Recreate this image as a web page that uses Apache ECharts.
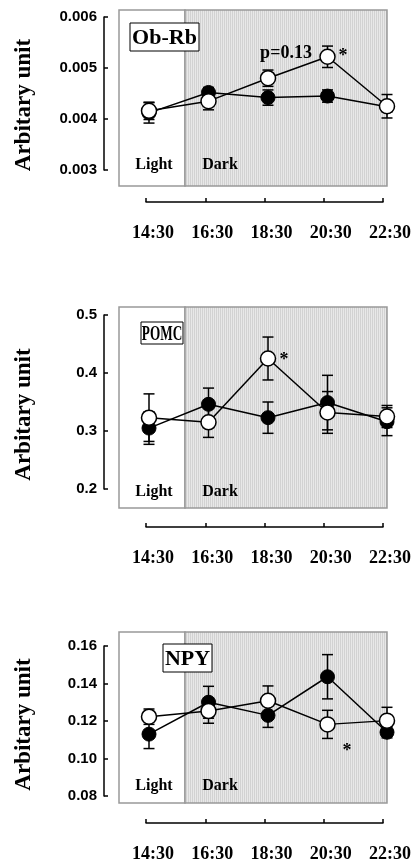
<!DOCTYPE html>
<html>
<head>
<meta charset="utf-8">
<script src="https://cdn.jsdelivr.net/npm/echarts@6/dist/echarts.min.js"></script>
<style>html,body{margin:0;padding:0;background:#fff}#c{width:414px;height:863px}</style>
</head>
<body>
<div id="c"></div>
<script>
// ---- data ----
const times = ['14:30', '16:30', '18:30', '20:30', '22:30'];

const obrbFilled    = [0.00412, 0.00452, 0.00442, 0.00445, 0.00424];
const obrbFilledSem = [0.00020, 0.00010, 0.00015, 0.00012, 0.00010];
const obrbOpen      = [0.00416, 0.00435, 0.00480, 0.00522, 0.00425];
const obrbOpenSem   = [0.00017, 0.00017, 0.00016, 0.00021, 0.00023];
const obrbTicks     = [0.003, 0.004, 0.005, 0.006];

const pomcFilled    = [0.305, 0.346, 0.323, 0.349, 0.316];
const pomcFilledSem = [0.028, 0.028, 0.027, 0.047, 0.024];
const pomcOpen      = [0.323, 0.315, 0.425, 0.332, 0.325];
const pomcOpenSem   = [0.041, 0.026, 0.037, 0.036, 0.019];
const pomcTicks     = [0.2, 0.3, 0.4, 0.5];

const npyFilled     = [0.113, 0.130, 0.123, 0.1436, 0.114];
const npyFilledSem  = [0.0077, 0.0085, 0.0064, 0.0118, 0.0030];
const npyOpen       = [0.1223, 0.1253, 0.1308, 0.1182, 0.1202];
const npyOpenSem    = [0.0041, 0.0065, 0.0079, 0.0075, 0.0071];
const npyTicks      = [0.08, 0.10, 0.12, 0.14, 0.16];

// ---- layout ----
const panels = [
  { name: 'Ob-Rb', filled: obrbFilled, filledSem: obrbFilledSem, open: obrbOpen, openSem: obrbOpenSem, ticks: obrbTicks, dec: 3,
    boxTop: 10, boxBottom: 186, axisTop: 17, axisBottom: 170, xAxisY: 202,
    label: { x: 130, y: 23, w: 69, h: 28, size: 22, sx: 1 },
    lightY: 165, notes: [{ t: 'p=0.13', x: 286, y: 53 }, { t: '*', x: 343, y: 56 }] },
  { name: 'POMC', filled: pomcFilled, filledSem: pomcFilledSem, open: pomcOpen, openSem: pomcOpenSem, ticks: pomcTicks, dec: 1,
    boxTop: 307, boxBottom: 508, axisTop: 315, axisBottom: 489, xAxisY: 527,
    label: { x: 141, y: 322, w: 42, h: 22, size: 22, sx: 0.6 },
    lightY: 492, notes: [{ t: '*', x: 284, y: 360 }] },
  { name: 'NPY', filled: npyFilled, filledSem: npyFilledSem, open: npyOpen, openSem: npyOpenSem, ticks: npyTicks, dec: 2,
    boxTop: 632, boxBottom: 803, axisTop: 646, axisBottom: 796, xAxisY: 824,
    label: { x: 163, y: 644, w: 49, h: 28, size: 22, sx: 1 },
    lightY: 786, notes: [{ t: '*', x: 347, y: 751 }] }
];

const boxLeft = 119, boxRight = 387, pt0X = 149, ptLastX = 387, lightEdgeX = 185;
const unit = (ptLastX - pt0X) / (times.length - 1);
const xMin = (boxLeft - pt0X) / unit;
const xMax = (boxRight - pt0X) / unit;
const xLight = (lightEdgeX - pt0X) / unit;

const serif = '"Liberation Serif", "Times New Roman", serif';
const sans = '"Liberation Sans", Arial, sans-serif';

// stripe pattern for dark period
const pc = document.createElement('canvas');
pc.width = 2; pc.height = 2;
const pctx = pc.getContext('2d');
pctx.fillStyle = '#e8e8e8'; pctx.fillRect(0, 0, 2, 2);
pctx.fillStyle = '#d2d2d2'; pctx.fillRect(0, 0, 1, 2);

const grid = [], xAxis = [], yAxis = [], series = [], graphic = [];

function errRender(params, api) {
  const lo = api.coord([api.value(0), api.value(1)]);
  const hi = api.coord([api.value(0), api.value(2)]);
  const w = 5.5;
  const st = { stroke: '#000', lineWidth: 1.5 };
  return { type: 'group', children: [
    { type: 'line', shape: { x1: lo[0], y1: lo[1], x2: hi[0], y2: hi[1] }, style: st },
    { type: 'line', shape: { x1: lo[0] - w, y1: lo[1], x2: lo[0] + w, y2: lo[1] }, style: st },
    { type: 'line', shape: { x1: hi[0] - w, y1: hi[1], x2: hi[0] + w, y2: hi[1] }, style: st }
  ]};
}

panels.forEach((p, k) => {
  const g0 = grid.length;
  const yMin = p.ticks[0], yMax = p.ticks[p.ticks.length - 1];
  const interval = p.ticks[1] - p.ticks[0];
  const pp = (yMax - yMin) / (p.axisBottom - p.axisTop);
  const dMax = yMax + (p.axisTop - p.boxTop) * pp;
  const dMin = yMin - (p.boxBottom - p.axisBottom) * pp;

  // data grid = framed box
  grid.push({ left: boxLeft, top: p.boxTop, width: boxRight - boxLeft, height: p.boxBottom - p.boxTop });
  xAxis.push({ gridIndex: g0, type: 'value', min: xMin, max: xMax, show: false });
  yAxis.push({ gridIndex: g0, type: 'value', min: dMin, max: dMax, show: false });

  // y axis grid
  grid.push({ left: 104, top: p.axisTop, width: 10, height: p.axisBottom - p.axisTop });
  xAxis.push({ gridIndex: g0 + 1, type: 'value', min: 0, max: 1, show: false });
  yAxis.push({ gridIndex: g0 + 1, type: 'value', min: yMin, max: yMax, interval: interval,
    axisLine: { show: true, lineStyle: { color: '#000', width: 1.5 } },
    axisTick: { show: true, inside: true, length: 4, lineStyle: { color: '#000', width: 1.5 } },
    splitLine: { show: false },
    axisLabel: { color: '#000', fontFamily: sans, fontWeight: 'bold', fontSize: 15, margin: 7,
      formatter: v => v.toFixed(p.dec) } });

  // x axis grid
  grid.push({ left: 146, top: p.xAxisY - 10, width: 237, height: 10 });
  xAxis.push({ gridIndex: g0 + 2, type: 'value', min: 0, max: times.length - 1, interval: 1, position: 'bottom',
    axisLine: { show: true, lineStyle: { color: '#000', width: 1.5 } },
    axisTick: { show: true, inside: true, length: 4, lineStyle: { color: '#000', width: 1.5 } },
    splitLine: { show: false },
    axisLabel: { color: '#000', fontFamily: serif, fontWeight: 'bold', fontSize: 18, margin: 22,
      padding: [0, 0, 0, 14], formatter: v => times[Math.round(v)] || '' } });
  yAxis.push({ gridIndex: g0 + 2, type: 'value', min: 0, max: 1, show: false });

  // background light / dark areas
  series.push({ type: 'line', xAxisIndex: g0, yAxisIndex: g0, data: p.filled.map((v, i) => [i, v]),
    symbol: 'none', lineStyle: { opacity: 0 }, silent: true, z: 1,
    markArea: { silent: true, data: [
      [{ xAxis: xMin, itemStyle: { color: '#fff', borderColor: '#999', borderWidth: 1.5 } }, { xAxis: xLight }],
      [{ xAxis: xLight, itemStyle: { color: { image: pc, repeat: 'repeat' }, borderColor: '#999', borderWidth: 1.5 } }, { xAxis: xMax }]
    ] } });

  series.push({ type: 'custom', xAxisIndex: g0, yAxisIndex: g0, z: 2, clip: false,
    data: p.filled.map((v, i) => [i, v - p.filledSem[i], v + p.filledSem[i]]), renderItem: errRender });
  series.push({ type: 'line', xAxisIndex: g0, yAxisIndex: g0, z: 3, clip: false,
    data: p.filled.map((v, i) => [i, v]), symbol: 'circle', symbolSize: 14,
    itemStyle: { color: '#000', borderColor: '#000', borderWidth: 1 },
    lineStyle: { color: '#000', width: 1.5 } });
  series.push({ type: 'custom', xAxisIndex: g0, yAxisIndex: g0, z: 4, clip: false,
    data: p.open.map((v, i) => [i, v - p.openSem[i], v + p.openSem[i]]), renderItem: errRender });
  series.push({ type: 'line', xAxisIndex: g0, yAxisIndex: g0, z: 5, clip: false,
    data: p.open.map((v, i) => [i, v]), symbol: 'circle', symbolSize: 15,
    itemStyle: { color: '#fff', borderColor: '#000', borderWidth: 1.5 },
    lineStyle: { color: '#000', width: 1.5 } });

  // annotations
  const L = p.label;
  graphic.push({ type: 'rect', z: 100, shape: { x: L.x, y: L.y, width: L.w, height: L.h },
    style: { fill: '#fff', stroke: '#000', lineWidth: 1 } });
  graphic.push({ type: 'text', z: 101, x: L.x + L.w / 2, y: L.y + L.h / 2 + 1, scaleX: L.sx,
    style: { text: p.name, font: 'bold ' + L.size + 'px ' + serif, fill: '#000', align: 'center', verticalAlign: 'middle' } });
  graphic.push({ type: 'text', z: 101, x: 154, y: p.lightY,
    style: { text: 'Light', font: 'bold 16px ' + serif, fill: '#000', align: 'center', verticalAlign: 'middle' } });
  graphic.push({ type: 'text', z: 101, x: 220, y: p.lightY,
    style: { text: 'Dark', font: 'bold 16px ' + serif, fill: '#000', align: 'center', verticalAlign: 'middle' } });
  p.notes.forEach(n => graphic.push({ type: 'text', z: 101, x: n.x, y: n.y,
    style: { text: n.t, font: 'bold 18px ' + serif, fill: '#000', align: 'center', verticalAlign: 'middle' } }));
  graphic.push({ type: 'text', z: 101, x: 24, y: (p.boxTop + p.boxBottom) / 2 + 7, rotation: Math.PI / 2,
    style: { text: 'Arbitary unit', font: 'bold 23px ' + serif, fill: '#000', align: 'center', verticalAlign: 'middle' } });
});

const chart = echarts.init(document.getElementById('c'), null, { renderer: 'canvas' });
chart.setOption({ animation: false, backgroundColor: '#fff', grid, xAxis, yAxis, series, graphic });
</script>
</body>
</html>
